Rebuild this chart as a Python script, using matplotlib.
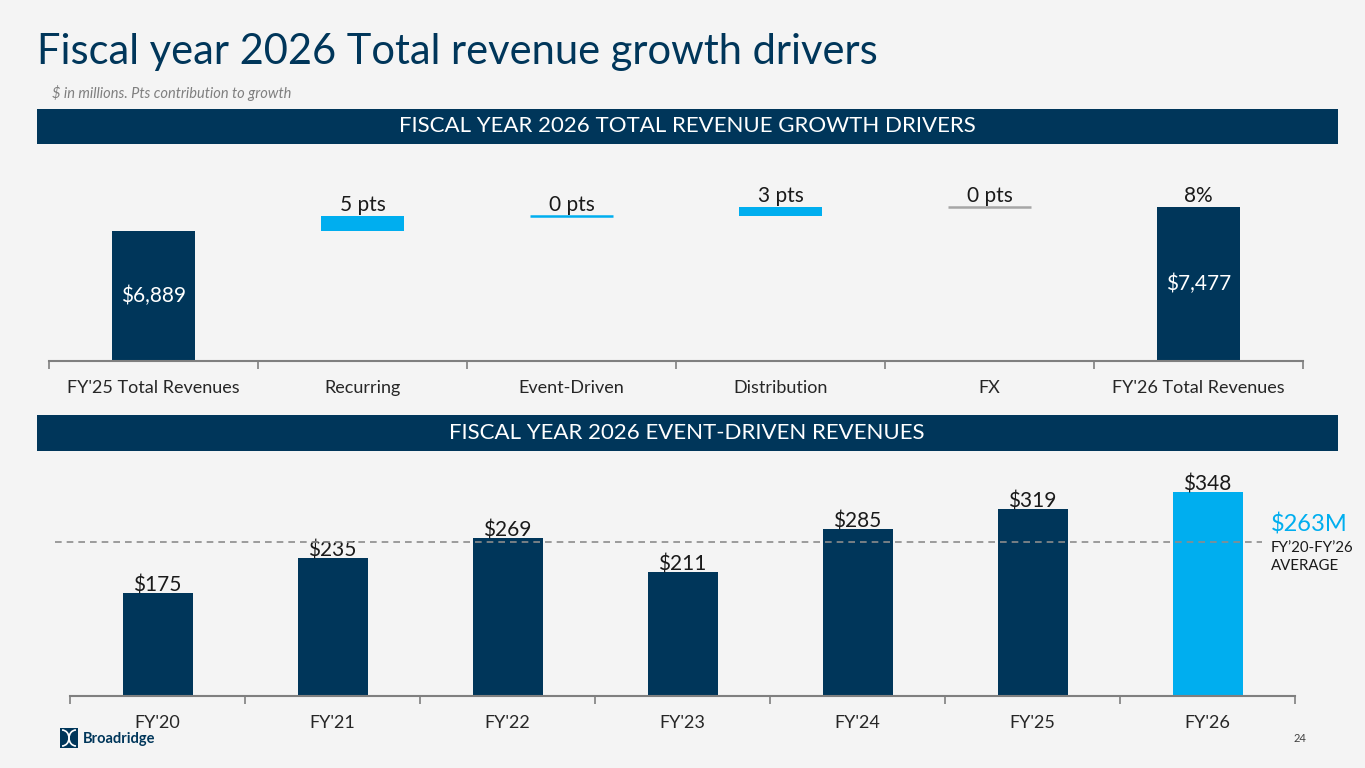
import numpy as np
import matplotlib.pyplot as plt
from matplotlib.patches import Rectangle, Arc

plt.rcParams['font.family'] = ['Lato', 'DejaVu Sans']

# top chart data
driver_cats = ["FY'25 Total Revenues", "Recurring", "Event-Driven", "Distribution", "FX", "FY'26 Total Revenues"]
fy25_total = 6889
fy26_total = 7477
driver_pts = [5, 0, 3, 0]
growth_pct = 8

# bottom chart data
years = ["FY'20", "FY'21", "FY'22", "FY'23", "FY'24", "FY'25", "FY'26"]
event_rev = [175, 235, 269, 211, 285, 319, 348]

NAVY = '#00365A'
BLUE = '#00AEEF'
BG = '#F4F4F4'
AXC = '#7F7F7F'
TXT = '#1A1A1A'
W, H = 1365, 768

fig = plt.figure(figsize=(W / 100, H / 100), dpi=100, facecolor=BG)

def px_axes(l, t, r, b):
    return fig.add_axes([l / W, 1 - b / H, (r - l) / W, (b - t) / H])

def style_cat_axis(ax, labels):
    n = len(labels)
    ax.set_facecolor('none')
    for s in ['top', 'right', 'left']:
        ax.spines[s].set_visible(False)
    ax.spines['bottom'].set_color(AXC)
    ax.spines['bottom'].set_linewidth(1.5)
    ax.set_yticks([])
    ax.set_xlim(-0.5, n - 0.5)
    ax.set_xticks(np.arange(n + 1) - 0.5)
    ax.set_xticklabels([])
    ax.tick_params(axis='x', which='major', length=6, width=1.2, color=AXC)
    ax.set_xticks(np.arange(n), minor=True)
    ax.set_xticklabels(labels, minor=True, fontsize=13, color='#262626')
    ax.tick_params(axis='x', which='minor', length=0, pad=14)

# title & subtitle
fig.text(37 / W, 1 - 52 / H, 'Fiscal year 2026 Total revenue growth drivers', fontsize=30,
         color=NAVY, va='center', ha='left')
fig.text(52 / W, 1 - 93 / H, '$ in millions. Pts contribution to growth', fontsize=10.5,
         color='#7F7F7F', style='italic', va='center', ha='left')

# header bands
for top, bot, label in [(109, 144, 'FISCAL YEAR 2026 TOTAL REVENUE GROWTH DRIVERS'),
                        (415, 451, 'FISCAL YEAR 2026 EVENT-DRIVEN REVENUES')]:
    fig.patches.append(Rectangle((37 / W, 1 - bot / H), (1338 - 37) / W, (bot - top) / H,
                                 transform=fig.transFigure, facecolor=NAVY, edgecolor='none'))
    fig.text(687 / W, 1 - (top + bot) / 2 / H, label, fontsize=16, color='white',
             ha='center', va='center')

# ---- top waterfall ----
ax1 = px_axes(49, 180, 1303, 361)
style_cat_axis(ax1, driver_cats)
ax1.set_ylim(3700, 3700 + 181 / 0.0408)

steps = np.array(driver_pts) / sum(driver_pts) * (fy26_total - fy25_total)
bottoms = fy25_total + np.concatenate([[0], np.cumsum(steps)[:-1]])
bw = 0.4

ax1.bar(0, fy25_total - 3700, bottom=3700, width=bw, color=NAVY)
ax1.bar(5, fy26_total - 3700, bottom=3700, width=bw, color=NAVY)
ax1.text(0, (fy25_total + 3700) / 2, '${:,}'.format(fy25_total), color='white', fontsize=15,
         ha='center', va='center')
ax1.text(5, (fy26_total + 3700) / 2, '${:,}'.format(fy26_total), color='white', fontsize=15,
         ha='center', va='center')
ax1.text(5, fy26_total + 10, '{}%'.format(growth_pct), fontsize=15, ha='center', va='bottom',
         color=TXT)

step_cols = [BLUE, BLUE, BLUE, '#A6A6A6']
for i, (p, s, b) in enumerate(zip(driver_pts, steps, bottoms)):
    x = i + 1
    if p == 0:
        ax1.hlines(b, x - bw / 2, x + bw / 2, color=step_cols[i], lw=1.8)
        top = b
    else:
        ax1.bar(x, s, bottom=b, width=bw, color=step_cols[i])
        top = b + s
    ax1.text(x, top + 10, '{} pts'.format(p), fontsize=15, ha='center', va='bottom', color=TXT)

# ---- bottom bars ----
ax2 = px_axes(70, 470, 1295, 696)
style_cat_axis(ax2, years)
ax2.set_ylim(0, 226 / 0.586)

cols = [NAVY] * (len(years) - 1) + [BLUE]
ax2.bar(np.arange(len(years)), event_rev, width=0.4, color=cols)
for i, v in enumerate(event_rev):
    ax2.text(i, v - 4, '${}'.format(v), fontsize=15, ha='center', va='bottom', color=TXT)

avg = np.mean(event_rev)
ax2.hlines(avg, -0.586, 6.31, colors='#8C8C8C', linestyles=(0, (4, 3)), lw=1.2, clip_on=False,
           zorder=3)
fig.text(1271 / W, 1 - 524 / H, '${:.0f}M'.format(avg), fontsize=17, color=BLUE,
         ha='left', va='center')
fig.text(1271 / W, 1 - 548 / H, 'FY\u201920-FY\u201926', fontsize=10.8, color=TXT,
         ha='left', va='center')
fig.text(1271 / W, 1 - 566 / H, 'AVERAGE', fontsize=10.8, color=TXT,
         ha='left', va='center')

# footer logo
fig.patches.append(Rectangle((60 / W, 1 - 748 / H), 18 / W, 20 / H, transform=fig.transFigure,
                             facecolor=NAVY, edgecolor='none'))
for cx in (62, 76):
    fig.patches.append(Arc((cx / W, 1 - 738 / H), 14 / W, 16 / H, transform=fig.transFigure,
                           theta1=-90 if cx == 62 else 90, theta2=90 if cx == 62 else 270,
                           color='white', lw=1.2))
fig.text(83 / W, 1 - 739 / H, 'Broadridge', fontsize=10.5, fontweight='bold', color=NAVY,
         ha='left', va='center')
fig.text(1300 / W, 1 - 738 / H, '24', fontsize=8, color='#404040', ha='center', va='center')

fig.savefig('out.png', dpi=100, facecolor=BG)
